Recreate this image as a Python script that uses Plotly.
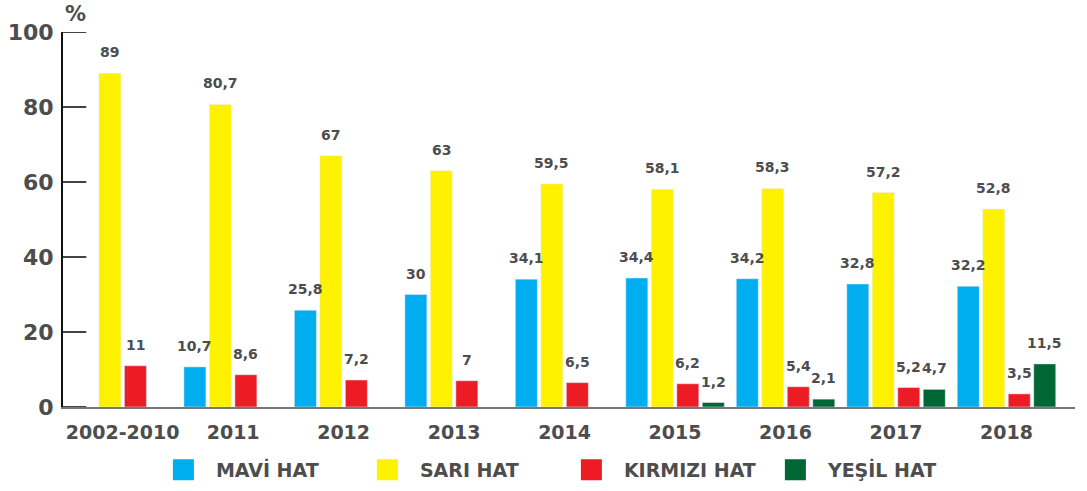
import plotly.graph_objects as go

YILLAR = ["2002-2010", "2011", "2012", "2013", "2014", "2015", "2016", "2017", "2018"]

MAVI = [None, 10.7, 25.8, 30, 34.1, 34.4, 34.2, 32.8, 32.2]
SARI = [89, 80.7, 67, 63, 59.5, 58.1, 58.3, 57.2, 52.8]
KIRMIZI = [11, 8.6, 7.2, 7, 6.5, 6.2, 5.4, 5.2, 3.5]
YESIL = [None, None, None, None, None, 1.2, 2.1, 4.7, 11.5]

Y_TICKS = [0, 20, 40, 60, 80, 100]

SERILER = [
    ("MAVİ HAT", MAVI, "#00AEEF"),
    ("SARI HAT", SARI, "#FFF200"),
    ("KIRMIZI HAT", KIRMIZI, "#ED1C24"),
    ("YEŞİL HAT", YESIL, "#006633"),
]

FONT = "DejaVu Sans"
GRI = "#4d4d4d"
BAR_ADIM = 25.5  # px between neighbouring bars in a group

fig = go.Figure()
for ad, degerler, renk in SERILER:
    fig.add_trace(go.Bar(
        x=YILLAR,
        y=degerler,
        name=ad,
        marker_color=renk,
        showlegend=False,
    ))
    # legend entry with bigger square
    fig.add_trace(go.Scatter(
        x=[None],
        y=[None],
        mode="markers",
        name=ad,
        marker=dict(symbol="square", size=22, color=renk,
                    line=dict(color=renk, width=5)),
    ))

for i, (ad, degerler, renk) in enumerate(SERILER):
    for j, v in enumerate(degerler):
        if v is None:
            continue
        fig.add_annotation(
            x=j, y=v,
            text=f"{v:g}".replace(".", ","),
            showarrow=False,
            xshift=(i - 1.5) * BAR_ADIM,
            yshift=21,
            yanchor="middle",
            font=dict(family=FONT, size=14, color=GRI, weight="bold"),
        )

# short tick marks on the inner side of the y axis
for t in Y_TICKS:
    fig.add_shape(
        type="line", xref="paper", yref="y",
        x0=0, x1=0.023, y0=t, y1=t,
        line=dict(color="#444444", width=2),
    )

fig.add_annotation(
    xref="paper", yref="paper", x=0.0, y=1.0, yshift=18,
    yanchor="middle",
    text="%", showarrow=False,
    font=dict(family=FONT, size=21, color=GRI, weight="bold"),
)

fig.update_layout(
    width=1087,
    height=491,
    barmode="group",
    bargap=0.077,
    bargroupgap=0.137,
    plot_bgcolor="white",
    paper_bgcolor="white",
    margin=dict(l=63, r=12, t=32, b=84, autoexpand=False),
    font=dict(family=FONT, color=GRI),
    xaxis=dict(
        type="category",
        range=[-0.54, 8.62],
        showline=True,
        linecolor="#777777",
        linewidth=2,
        ticks="",
        ticklabelstandoff=7,
        tickfont=dict(family=FONT, size=19, color=GRI, weight="bold"),
        showgrid=False,
    ),
    yaxis=dict(
        range=[0, 100],
        tickvals=Y_TICKS,
        showline=True,
        linecolor="#111111",
        linewidth=2,
        ticks="",
        ticklabelstandoff=3,
        tickfont=dict(family=FONT, size=22, color=GRI, weight="bold"),
        showgrid=False,
        zeroline=False,
    ),
    legend=dict(
        orientation="h",
        x=0.49, xanchor="center",
        y=-0.168, yanchor="middle",
        font=dict(family=FONT, size=19, color=GRI, weight="bold"),
        itemsizing="trace",
        itemwidth=55,
        entrywidth=134,
    ),
)

fig.write_html(
    "out.html",
    config={"displayModeBar": False},
    post_script="document.body.style.margin='0';",
)
